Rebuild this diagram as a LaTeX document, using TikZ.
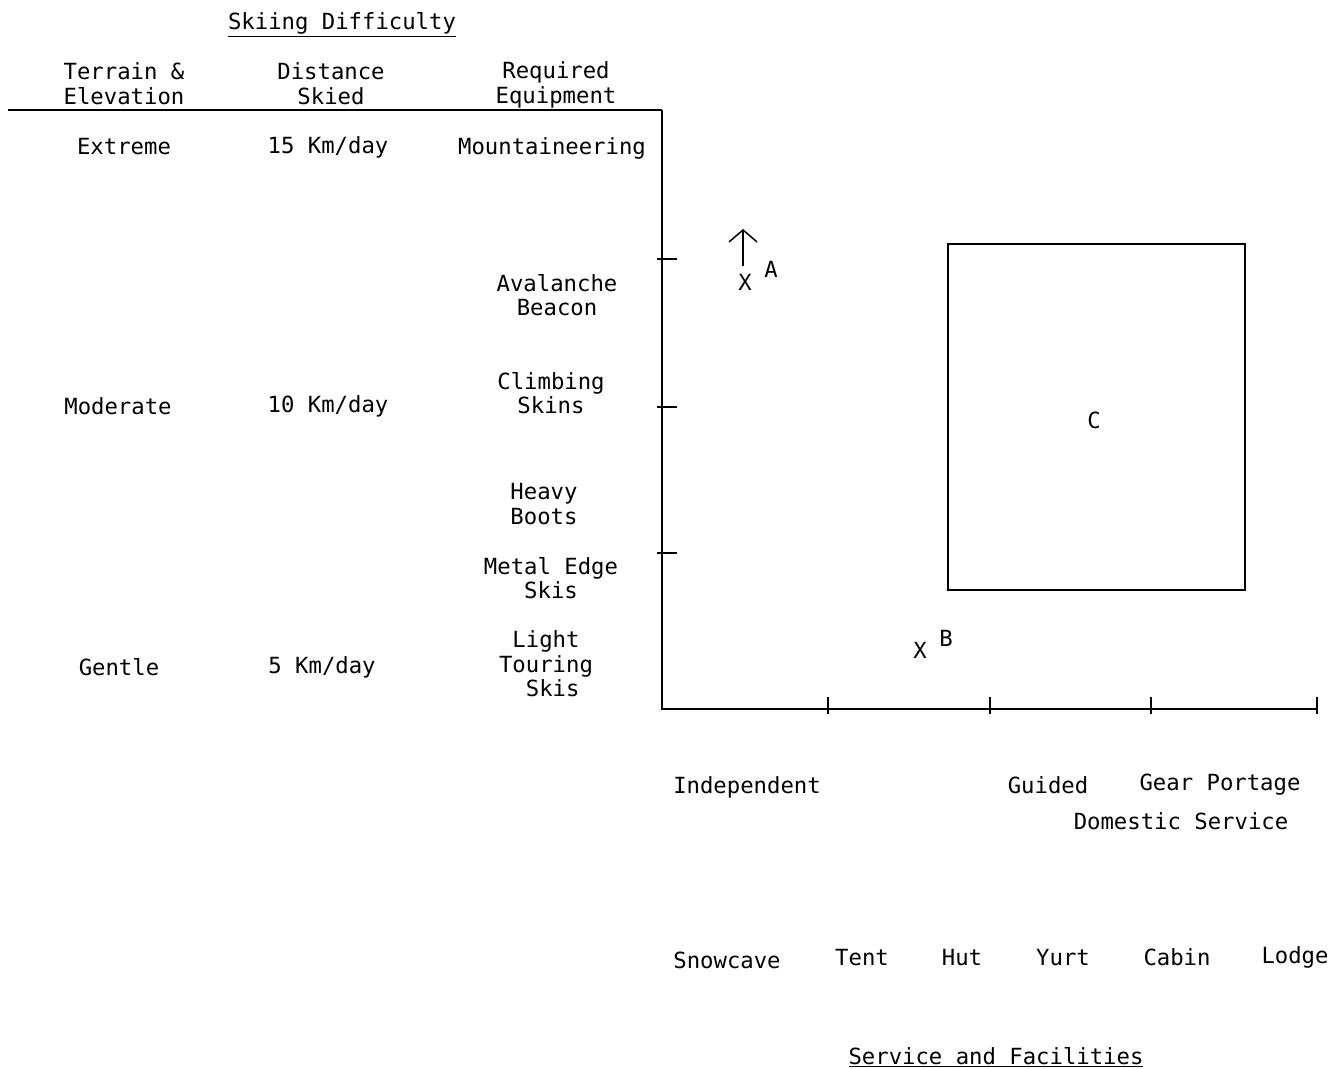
\documentclass[tikz,border=0pt]{standalone}
\usepackage{fontspec}
\setmainfont{DejaVu Sans Mono}
\usetikzlibrary{arrows.meta}
\begin{document}
\begin{tikzpicture}[x=0.75pt,y=-0.75pt,
  lbl/.style={font=\fontsize{16.7}{18.5}\selectfont, inner sep=0pt, align=center},
  axis/.style={line width=1.3pt},
  tick/.style={line width=1.1pt}]
\useasboundingbox (0,0) rectangle (1333,1069);
% titles
\node[lbl] (title) at (342,25) {\underline{Skiing Difficulty}};
\node[lbl] (h1) at (124,84) {Terrain \&\\Elevation};
\node[lbl] (h2) at (331,84) {Distance\\Skied};
\node[lbl] (h3) at (556,85) {Required\\Equipment};
% header rule and axes
\coordinate (hl) at (8,110);
\coordinate (o) at (662,709);
\coordinate (top) at (662,110);
\coordinate (xend) at (1317,709);
\draw[axis] (hl) -- (top);
\draw[axis] (top) -- (o) -- (xend);
% y ticks
\foreach \y in {259,407,553} \draw[tick] (657,\y) -- (677,\y);
% x ticks
\foreach \x in {828,990,1151,1317} \draw[tick] (\x,697) -- (\x,714);
% rows
\node[lbl] (r1a) at (124,147) {Extreme};
\node[lbl] (r1b) at (328,147) {15 Km/day};
\node[lbl] (r1c) at (552,148) {Mountaineering};
\node[lbl] (r2a) at (118,406) {Moderate};
\node[lbl] (r2b) at (328,406) {10 Km/day};
\node[lbl] (r3a) at (119,667) {Gentle};
\node[lbl] (r3b) at (322,667) {5 Km/day};
% equipment
\node[lbl] (e1) at (557,295) {Avalanche\\Beacon};
\node[lbl] (e2) at (551,393) {Climbing\\Skins};
\node[lbl] (e3) at (544,504) {Heavy\\Boots};
\node[lbl] (e4) at (551,578) {Metal Edge\\Skis};
\node[lbl] (e5) at (546,664) {Light\\Touring\\\hspace*{10pt}Skis};
% point A
\node[lbl] (xa) at (745,282) {X};
\node[lbl] (la) at (771,269) {A};
\coordinate (atip) at (743,229);
\draw[line width=1.1pt,-{Straight Barb[length=9pt,width=21pt,line width=1.1pt]}] (743,266) -- (atip);
% box C
\node[draw,line width=1.2pt,minimum width=223pt,minimum height=259.5pt,inner sep=0pt] (boxc) at (1096.5,417) {};
\node[lbl] (lc) at (1094,420) {C};
% point B
\node[lbl] (xb) at (920,650) {X};
\node[lbl] (lb) at (946,638) {B};
% x labels
\node[lbl] (s1) at (747,787) {Independent};
\node[lbl] (s2) at (1048,785) {Guided};
\node[lbl] (s3) at (1220,785) {Gear Portage};
\node[lbl] (s4) at (1181,821) {Domestic Service};
\node[lbl] (f1) at (727,960) {Snowcave};
\node[lbl] (f2) at (862,958) {Tent};
\node[lbl] (f3) at (962,958) {Hut};
\node[lbl] (f4) at (1063,958) {Yurt};
\node[lbl] (f5) at (1177,957) {Cabin};
\node[lbl] (f6) at (1295,957) {Lodge};
\node[lbl] (xtitle) at (996,1057) {\underline{Service and Facilities}};
\end{tikzpicture}
\end{document}
